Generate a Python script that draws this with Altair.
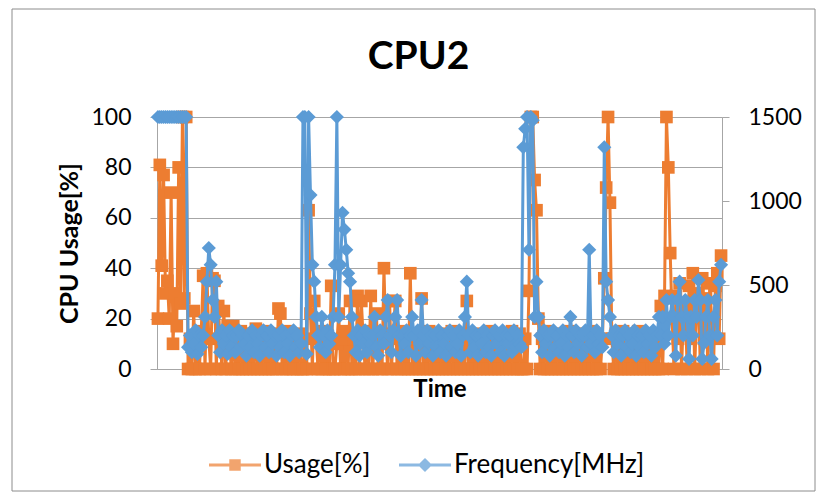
import altair as alt
import pandas as pd

# ---- data ----
usage = [
    20, 81, 41, 77, 30, 35, 20, 70, 10, 30,
    17, 80, 26, 100, 28, 100, 0, 12, 0, 23,
    0, 12, 0, 15, 37, 0, 38, 12, 0, 36,
    35, 0, 25, 12, 0, 23, 0, 17, 10, 0,
    17, 0, 12, 0, 15, 0, 10, 0, 14, 0,
    12, 0, 16, 0, 10, 0, 15, 0, 12, 0,
    14, 0, 12, 0, 24, 22, 0, 12, 0, 15,
    0, 10, 0, 12, 0, 14, 0, 0, 12, 0,
    63, 22, 0, 27, 12, 0, 15, 0, 10, 0,
    12, 0, 33, 0, 0, 10, 22, 0, 12, 0,
    15, 0, 27, 0, 12, 0, 29, 0, 27, 12,
    0, 15, 0, 29, 0, 12, 22, 0, 14, 0,
    40, 12, 0, 27, 0, 14, 27, 0, 12, 0,
    15, 0, 12, 0, 38, 0, 12, 0, 14, 0,
    28, 0, 12, 0, 15, 0, 10, 0, 12, 0,
    14, 0, 10, 0, 12, 0, 15, 0, 10, 0,
    12, 0, 14, 0, 27, 0, 10, 0, 12, 0,
    14, 0, 12, 0, 10, 0, 15, 0, 12, 0,
    10, 0, 14, 0, 12, 0, 10, 0, 15, 0,
    12, 0, 14, 0, 0, 12, 0, 31, 100, 100,
    75, 63, 20, 0, 12, 0, 15, 0, 10, 0,
    12, 0, 14, 0, 10, 0, 12, 0, 15, 0,
    10, 0, 12, 0, 14, 0, 10, 0, 12, 0,
    15, 0, 12, 0, 10, 0, 12, 36, 72, 100,
    66, 12, 0, 14, 0, 12, 0, 15, 0, 10,
    0, 14, 0, 12, 0, 15, 0, 10, 0, 12,
    0, 14, 0, 12, 0, 10, 0, 25, 0, 29,
    100, 80, 46, 20, 0, 29, 12, 34, 0, 20,
    25, 0, 33, 12, 38, 0, 22, 30, 0, 36,
    12, 28, 0, 34, 20, 0, 33, 38, 12, 45,
]

freq = [
    1500, 1500, 1500, 1500, 1500, 1500, 1500, 1500, 1500, 1500,
    1500, 1500, 1500, 1500, 1500, 1500, 130, 200, 100, 150,
    230, 90, 200, 130, 200, 310, 520, 720, 620, 410,
    310, 520, 200, 100, 230, 150, 200, 90, 230, 130,
    200, 100, 200, 230, 130, 200, 150, 80, 200, 130,
    230, 100, 200, 150, 80, 200, 230, 130, 200, 100,
    230, 150, 200, 80, 200, 130, 230, 100, 200, 150,
    80, 200, 230, 130, 200, 100, 150, 1500, 1500, 90,
    1500, 1035, 620, 520, 310, 200, 130, 310, 200, 100,
    230, 150, 200, 310, 620, 1500, 310, 620, 930, 830,
    710, 570, 520, 310, 200, 100, 230, 80, 200, 150,
    230, 100, 200, 150, 200, 310, 130, 80, 230, 200,
    150, 310, 410, 200, 100, 230, 310, 410, 200, 80,
    200, 150, 230, 100, 200, 310, 200, 80, 230, 150,
    410, 200, 100, 230, 150, 200, 80, 200, 130, 230,
    100, 200, 150, 80, 200, 230, 130, 200, 100, 150,
    230, 80, 200, 310, 520, 200, 100, 230, 130, 200,
    80, 200, 150, 230, 100, 200, 130, 80, 200, 230,
    150, 200, 100, 230, 80, 200, 150, 200, 100, 230,
    130, 200, 150, 130, 1320, 1430, 1500, 710, 1500, 1480,
    310, 520, 310, 200, 100, 230, 150, 200, 80, 200,
    230, 130, 200, 100, 150, 230, 80, 200, 130, 310,
    200, 100, 230, 150, 200, 80, 200, 230, 130, 710,
    150, 200, 100, 230, 150, 200, 130, 1320, 520, 410,
    310, 200, 100, 230, 150, 200, 80, 200, 230, 130,
    200, 100, 150, 230, 80, 200, 130, 200, 100, 230,
    150, 200, 80, 230, 130, 200, 310, 200, 310, 150,
    410, 200, 310, 410, 310, 80, 410, 520, 310, 200,
    410, 310, 60, 310, 200, 410, 310, 530, 410, 60,
    155, 310, 410, 200, 60, 310, 410, 200, 520, 620,
]

series_names = ["Usage[%]", "Frequency[MHz]"]
left_ticks = [0, 20, 40, 60, 80, 100]
right_ticks = [0, 500, 1000, 1500]
chart_title = "CPU2"
x_title = "Time"
y_title = "CPU Usage[%]"

ORANGE = "#ED7D31"
BLUE = "#5B9BD5"
GRID = "#a6a6a6"
FONT = "Lato"

n = len(usage)
df = pd.DataFrame({"t": list(range(n)), "usage": usage, "freq": freq})
legend_df = pd.DataFrame({"series": series_names})

x_enc = alt.X(
    "t:Q",
    scale=alt.Scale(domain=[-0.5, n - 0.5], nice=False, zero=False),
    axis=alt.Axis(
        title=x_title, labels=False, ticks=False, grid=False,
        domainColor=GRID, domainWidth=1,
        titleFont=FONT, titleFontSize=24, titleFontWeight="bold",
        titleColor="black", titlePadding=8,
    ),
)

yU = alt.Y(
    "usage:Q",
    scale=alt.Scale(domain=[0, 100], nice=False),
    axis=alt.Axis(
        values=left_ticks, title=y_title, grid=True, gridColor=GRID,
        domainColor=GRID, tickColor=GRID, tickSize=7,
        labelFont=FONT, labelFontSize=23, labelColor="black", labelPadding=19,
        titleFont=FONT, titleFontSize=25, titleFontWeight="bold",
        titleColor="black", titlePadding=8,
    ),
)

yF = alt.Y(
    "freq:Q",
    scale=alt.Scale(domain=[0, 1500], nice=False),
    axis=alt.Axis(
        orient="right", values=right_ticks, title=None, grid=False, format="d",
        domainColor=GRID, tickColor=GRID, tickSize=7,
        labelFont=FONT, labelFontSize=23, labelColor="black", labelPadding=19,
    ),
)

base = alt.Chart(df)

usage_line = base.mark_line(color=ORANGE, strokeWidth=3).encode(x=x_enc, y=yU)
usage_pts = base.mark_point(shape="square", filled=True, size=160, opacity=1,
                            color=ORANGE).encode(x=x_enc, y=yU)

sq_path = "M-1,-0.06H1V0.06H-1ZM-0.22,-0.22H0.22V0.22H-0.22Z"
dm_path = "M-1,-0.06H1V0.06H-1ZM0,-0.27L0.27,0L0,0.27L-0.27,0Z"

leg = alt.Legend(
    title=None, orient="none", legendX=52, legendY=322, direction="horizontal",
    symbolSize=2704, symbolStrokeWidth=0, labelFont=FONT, labelFontSize=26,
    labelColor="black", labelOffset=3, columnPadding=28, labelLimit=400,
)

legend_layer = alt.Chart(legend_df).mark_point(filled=True, size=10).encode(
    color=alt.Color("series:N", scale=alt.Scale(domain=series_names, range=[ORANGE, BLUE]), legend=leg),
    shape=alt.Shape("series:N", scale=alt.Scale(domain=series_names, range=[sq_path, dm_path]), legend=leg),
).transform_filter("datum.series == 'none'")

usage_layer = alt.layer(usage_line, usage_pts, legend_layer)

freq_line = base.mark_line(color=BLUE, strokeWidth=3).encode(x=x_enc, y=yF)
freq_pts = base.mark_point(shape="diamond", filled=True, size=200, opacity=1,
                           color=BLUE).encode(x=x_enc, y=yF)
freq_layer = alt.layer(freq_line, freq_pts)

border = alt.Chart(legend_df).mark_rect(
    fill=None, stroke="#8c8c8c", strokeWidth=1
).encode(
    x=alt.value(-145), x2=alt.value(658), y=alt.value(-108), y2=alt.value(374)
).transform_filter("datum.series == 'Usage[%]'")

chart = alt.layer(border, usage_layer, freq_layer).resolve_scale(
    y="independent"
).properties(
    width=565, height=252,
    title=alt.TitleParams(chart_title, font=FONT, fontSize=39, fontWeight="bold",
                          color="black", anchor="middle", dx=-21, offset=-68),
    padding={"left": 149, "top": 109, "right": 99, "bottom": 123},
    autosize=alt.AutoSizeParams(type="none"),
).configure_view(stroke=None).configure(font=FONT, background="white")

chart.save("out.html", embed_options={"renderer": "svg", "actions": False})
